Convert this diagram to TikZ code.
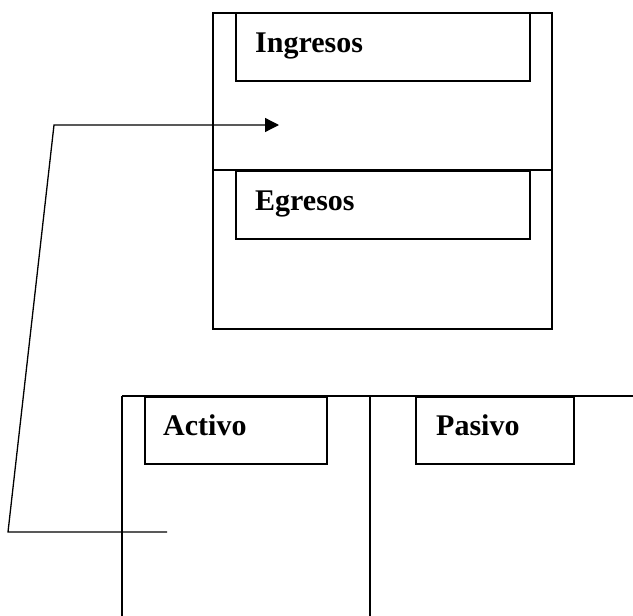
\documentclass[tikz,border=0pt]{standalone}
\usepackage{fontspec}
\setmainfont{Liberation Serif}
\usetikzlibrary{arrows.meta}
\tikzset{
  box/.style={draw,line width=1.5pt,inner sep=0pt,anchor=north west},
  lbl/.style={anchor=base west,inner sep=0pt,font=\fontsize{30}{36}\selectfont\bfseries},
  wire/.style={line width=1.3pt}
}
\begin{document}
\begin{tikzpicture}[x=1pt,y=-1pt]
  \useasboundingbox (0,0) rectangle (633,616);
  % upper block
  \node[box,minimum width=339pt,minimum height=316pt] (estado) at (212,12) {};
  \draw[line width=1.5pt] (212,170) -- (551,170);
  \node[box,minimum width=294pt,minimum height=68pt] (ingresos) at (235,12) {};
  \node[lbl] at ([xshift=20pt,yshift=-40pt]ingresos.north west) {Ingresos};
  \node[box,minimum width=294pt,minimum height=68pt] (egresos) at (235,170) {};
  \node[lbl] at ([xshift=20pt,yshift=-40pt]egresos.north west) {Egresos};
  % lower block
  \coordinate (t1) at (122,396);
  \coordinate (t2) at (633,396);
  \coordinate (m1) at (370,396);
  \draw[line width=1.5pt] (t1) -- (t2);
  \draw[line width=1.5pt] (t1) -- (122,616);
  \draw[line width=1.5pt] (m1) -- (370,616);
  \node[box,minimum width=182pt,minimum height=67pt] (activo) at (144,396) {};
  \node[lbl] at ([xshift=19pt,yshift=-39pt]activo.north west) {Activo};
  \node[box,minimum width=158pt,minimum height=67pt] (pasivo) at (415,396) {};
  \node[lbl] at ([xshift=21pt,yshift=-39pt]pasivo.north west) {Pasivo};
  % connector
  \coordinate (from) at (167,532);
  \coordinate (to) at (279,125);
  \draw[wire,-{Triangle[length=14pt,width=14pt]}] (from) -- (8,532) -- (54,125) -- (to);
\end{tikzpicture}
\end{document}
